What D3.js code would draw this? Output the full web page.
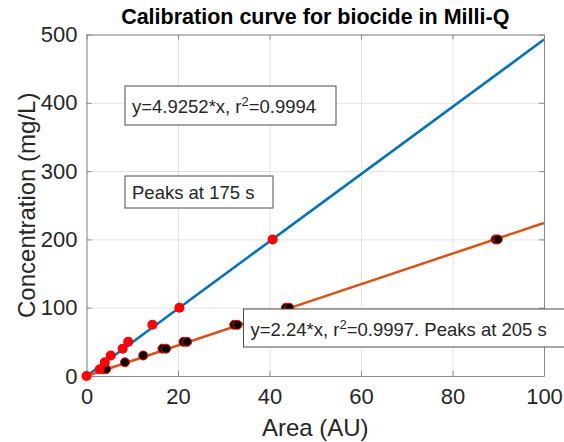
<!DOCTYPE html>
<html>
<head>
<meta charset="utf-8">
<script src="https://cdn.jsdelivr.net/npm/d3@7"></script>
<style>
  body { margin: 0; background: #fff; }
  svg { display: block; font-family: "Liberation Sans", Arial, sans-serif; }
</style>
</head>
<body>
<div id="chart"></div>
<script>
// calibration points: area (AU) vs concentration (mg/L)
const seriesA_area = [0, 2.9, 4.0, 5.3, 7.9, 9.1, 14.4, 20.3, 40.7];
const seriesA_conc = [0, 10, 20, 30, 40, 50, 75, 100, 200];
const seriesB_area = [3.8, 4.3, 8.4, 12.4, 16.6, 17.4, 21.2, 22.0, 32.3, 33.0, 43.6, 44.3, 89.4, 89.9];
const seriesB_conc = [10, 10, 20, 30, 40, 40, 50, 50, 75, 75, 100, 100, 200, 200];
const slopeA = 4.9252;
const slopeB = 2.24;
const xTicks = [0, 20, 40, 60, 80, 100];
const yTicks = [0, 100, 200, 300, 400, 500];

const W = 564, H = 442;
const margin = { top: 34.5, right: 20, bottom: 66, left: 86.5 };
const width = W - margin.left - margin.right;
const height = H - margin.top - margin.bottom;

const svg = d3.select('#chart').append('svg')
  .attr('width', W).attr('height', H);

const g = svg.append('g')
  .attr('transform', `translate(${margin.left},${margin.top})`);

const x = d3.scaleLinear().domain([0, 100]).range([0, width]);
const y = d3.scaleLinear().domain([0, 500]).range([height, 0]);

// grid
g.append('g')
  .call(d3.axisLeft(y).tickValues(yTicks).tickSize(-width).tickFormat(''))
  .call(a => a.select('.domain').remove())
  .selectAll('line').attr('stroke', '#e3e3e3');
g.append('g')
  .attr('transform', `translate(0,${height})`)
  .call(d3.axisBottom(x).tickValues(xTicks).tickSize(height).tickFormat(''))
  .call(a => a.select('.domain').remove())
  .selectAll('line').attr('stroke', '#e3e3e3').attr('transform', `translate(0,${-height})`);

// axes with inward ticks
const axisColor = '#8a8a8a';
const tickColor = '#262626';
const xAxis = g.append('g')
  .attr('transform', `translate(0,${height})`)
  .call(d3.axisBottom(x).tickValues(xTicks).tickSizeInner(-5).tickSizeOuter(0).tickPadding(12));
const yAxis = g.append('g')
  .call(d3.axisLeft(y).tickValues(yTicks).tickSizeInner(-5).tickSizeOuter(0).tickPadding(9));
const xTop = g.append('g')
  .call(d3.axisTop(x).tickValues(xTicks).tickSizeInner(-5).tickSizeOuter(0).tickFormat(''));
const yRight = g.append('g')
  .attr('transform', `translate(${width},0)`)
  .call(d3.axisRight(y).tickValues(yTicks).tickSizeInner(-5).tickSizeOuter(0).tickFormat(''));

[xAxis, yAxis, xTop, yRight].forEach(a => {
  a.select('.domain').attr('stroke', axisColor);
  a.selectAll('line').attr('stroke', axisColor);
  a.selectAll('text').attr('fill', tickColor).style('font-size', '22px')
    .style('font-family', '"Liberation Sans", Arial, sans-serif');
});
xAxis.selectAll('text').attr('dy', '0.71em');

// fit lines
const fit = slope => d3.line()
  .x(d => x(d))
  .y(d => y(d * slope));
g.append('path').datum([0, 100])
  .attr('fill', 'none').attr('stroke', '#0072BD').attr('stroke-width', 2.5)
  .attr('d', fit(slopeA));
g.append('path').datum([0, 100])
  .attr('fill', 'none').attr('stroke', '#D95319').attr('stroke-width', 2.5)
  .attr('d', fit(slopeB));

// markers
g.selectAll('.ptB')
  .data(seriesB_area.map((a, i) => [a, seriesB_conc[i]]))
  .enter().append('circle')
  .attr('cx', d => x(d[0])).attr('cy', d => y(d[1]))
  .attr('r', 4.5)
  .attr('fill', '#000').attr('stroke', '#ff0000').attr('stroke-width', 1);
g.selectAll('.ptA')
  .data(seriesA_area.map((a, i) => [a, seriesA_conc[i]]))
  .enter().append('circle')
  .attr('cx', d => x(d[0])).attr('cy', d => y(d[1]))
  .attr('r', 5)
  .attr('fill', '#ff0000');

// annotation boxes
function note(x0, y0, w, h, base, parts) {
  svg.append('rect')
    .attr('x', x0).attr('y', y0).attr('width', w).attr('height', h)
    .attr('fill', '#fff').attr('stroke', '#4d4d4d').attr('stroke-width', 1);
  const t = svg.append('text')
    .attr('x', x0 + 7).attr('y', y0 + base)
    .attr('fill', '#262626').style('font-size', '18.5px');
  let shift = 0;
  parts.forEach(p => {
    if (p.sup) {
      t.append('tspan').attr('dy', -7).style('font-size', '13px').text(p.sup);
      shift = 7;
    } else {
      t.append('tspan').attr('dy', shift).text(p.t);
      shift = 0;
    }
  });
}
note(125, 86, 211, 39, 27, [{ t: 'y=4.9252*x, r' }, { sup: '2' }, { t: '=0.9994' }]);
note(125, 176, 148, 32, 23, [{ t: 'Peaks at 175 s' }]);
note(243.5, 309, 340, 38, 27, [{ t: 'y=2.24*x, r' }, { sup: '2' }, { t: '=0.9997. Peaks at 205 s' }]);

// titles
svg.append('text')
  .attr('x', margin.left + width / 2).attr('y', 24)
  .attr('text-anchor', 'middle')
  .style('font-size', '21.5px').style('font-weight', 'bold')
  .attr('fill', '#000')
  .text('Calibration curve for biocide in Milli-Q');
svg.append('text')
  .attr('x', margin.left + width / 2).attr('y', 436)
  .attr('text-anchor', 'middle')
  .style('font-size', '24px').attr('fill', tickColor)
  .text('Area (AU)');
svg.append('text')
  .attr('transform', `translate(35,${margin.top + height / 2}) rotate(-90)`)
  .attr('text-anchor', 'middle')
  .style('font-size', '24px').attr('fill', tickColor)
  .text('Concentration (mg/L)');
</script>
</body>
</html>
